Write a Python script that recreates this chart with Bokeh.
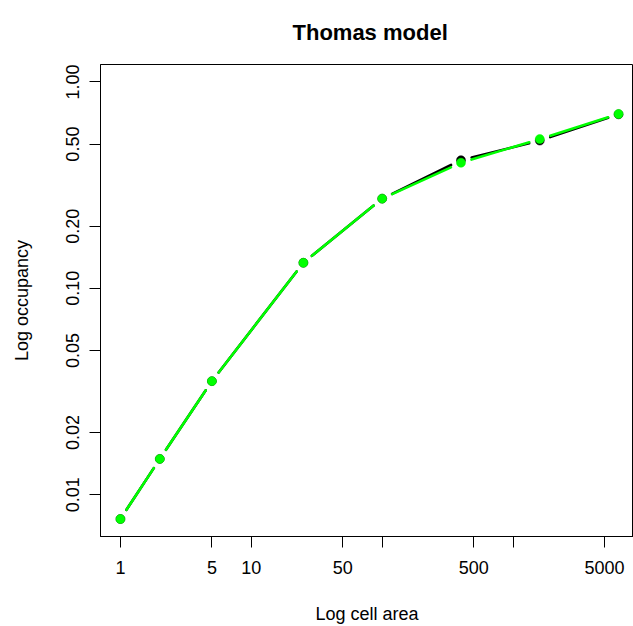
import math
from bokeh.plotting import figure
from bokeh.models import FixedTicker, Range1d, Title
from bokeh.embed import file_html
from bokeh.resources import INLINE

# ---- data ----
cell_area = [1, 2, 5, 25, 100, 400, 1600, 6400]
occ_observed = [0.00762, 0.0149, 0.0355, 0.133, 0.272, 0.418, 0.520, 0.697]
occ_thomas = [0.00762, 0.0149, 0.0355, 0.133, 0.272, 0.406, 0.529, 0.700]
x_ticks = [1, 5, 10, 50, 100, 500, 1000, 5000]
x_tick_labels = ["1", "5", "10", "50", "", "500", "", "5000"]
y_ticks = [0.01, 0.02, 0.05, 0.1, 0.2, 0.5, 1.0]
y_tick_labels = ["0.01", "0.02", "0.05", "0.10", "0.20", "0.50", "1.00"]
title_text = "Thomas model"

FONT = "Liberation Sans"
W, H = 633, 626
B_LEFT, B_TOP, B_BOTTOM, B_RIGHT = 100, 64, 90, 0
FRAME_W = W - B_LEFT - B_RIGHT
FRAME_H = H - B_TOP - B_BOTTOM
R_FULL_W = 538  # full plot-region width in the original (extends past window)

# x range: R style 4% padding in log space
xlo, xhi = math.log10(min(cell_area)), math.log10(max(cell_area))
xpad = 0.04 * (xhi - xlo)
px_per_dec_x = R_FULL_W / (xhi - xlo + 2 * xpad)
x_start = xlo - xpad
x_end = x_start + FRAME_W / px_per_dec_x

ylo = math.log10(min(occ_observed + occ_thomas))
yhi = math.log10(max(y_ticks))
ypad = 0.04 * (yhi - ylo)
y_start, y_end = ylo - ypad, yhi + ypad
px_per_dec_y = FRAME_H / (y_end - y_start)

p = figure(width=W, height=H, output_backend="svg", toolbar_location=None,
           x_axis_type="log", y_axis_type="log",
           x_range=Range1d(10 ** x_start, 10 ** x_end),
           y_range=Range1d(10 ** y_start, 10 ** y_end),
           min_border_left=B_LEFT, min_border_top=B_TOP,
           min_border_bottom=B_BOTTOM, min_border_right=B_RIGHT)
p.background_fill_color = "white"
p.border_fill_color = "white"
p.outline_line_color = "black"
p.outline_line_width = 1
p.xgrid.visible = False
p.ygrid.visible = False

p.title = Title(text=title_text, text_font=FONT, text_font_size="22px",
                text_font_style="bold", text_color="black",
                align="left", offset=192, vertical_align="top", standoff=36)

for ax, ticks, labels in ((p.xaxis[0], x_ticks, x_tick_labels),
                          (p.yaxis[0], y_ticks, y_tick_labels)):
    ax.ticker = FixedTicker(ticks=ticks, minor_ticks=[])
    ax.major_label_overrides = {t: l for t, l in zip(ticks, labels)}
    ax.major_tick_out = 11
    ax.major_tick_in = 0
    ax.minor_tick_out = 0
    ax.minor_tick_in = 0
    ax.axis_line_color = "black"
    ax.major_tick_line_color = "black"
    ax.major_label_text_font = FONT
    ax.major_label_text_font_size = "18px"
    ax.major_label_text_color = "black"
    ax.axis_label_text_font = FONT
    ax.axis_label_text_font_size = "18px"
    ax.axis_label_text_font_style = "normal"
    ax.axis_label_text_color = "black"

p.xaxis.axis_label = "Log cell area"
p.yaxis.axis_label = "Log occupancy"
p.xaxis.major_label_standoff = 13
p.xaxis.axis_label_standoff = 27
p.yaxis.major_label_orientation = "vertical"
p.yaxis.major_label_standoff = 10
p.yaxis.axis_label_standoff = 32

GAP = 11  # px gap around points (R type="b")


def gapped_segments(xs, ys):
    x0s, y0s, x1s, y1s = [], [], [], []
    for i in range(len(xs) - 1):
        ax_, ay_ = math.log10(xs[i]), math.log10(ys[i])
        bx_, by_ = math.log10(xs[i + 1]), math.log10(ys[i + 1])
        dxp = (bx_ - ax_) * px_per_dec_x
        dyp = (by_ - ay_) * px_per_dec_y
        L = math.hypot(dxp, dyp)
        if L <= 2 * GAP:
            continue
        f = GAP / L
        x0s.append(10 ** (ax_ + (bx_ - ax_) * f))
        y0s.append(10 ** (ay_ + (by_ - ay_) * f))
        x1s.append(10 ** (bx_ - (bx_ - ax_) * f))
        y1s.append(10 ** (by_ - (by_ - ay_) * f))
    return x0s, y0s, x1s, y1s


for ys, col in ((occ_observed, "black"), (occ_thomas, "#00FF00")):
    x0, y0, x1, y1 = gapped_segments(cell_area, ys)
    p.segment(x0, y0, x1, y1, line_color=col, line_width=2.6, line_cap="round")
    p.scatter(cell_area, ys, size=9, fill_color=col, line_color=col,
              line_width=0.5, marker="circle")

open("out.html", "w").write(file_html(p, INLINE))
